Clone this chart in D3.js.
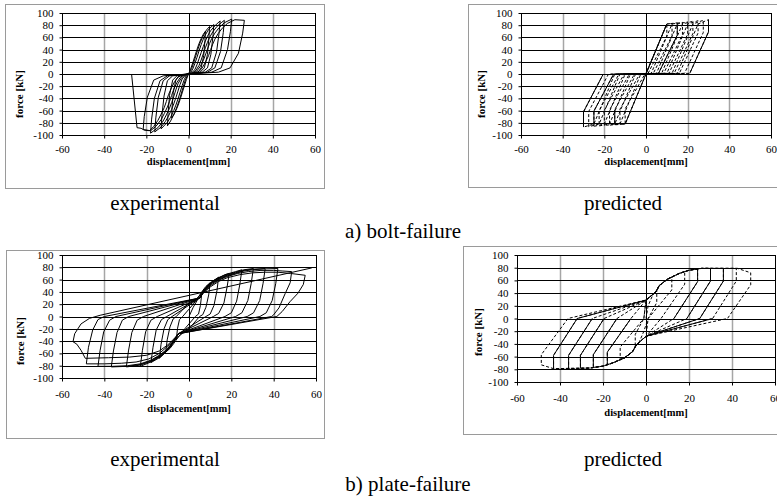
<!DOCTYPE html>
<html>
<head>
<meta charset="utf-8">
<script src="https://cdn.jsdelivr.net/npm/d3@7"></script>
<style>
  html, body { margin: 0; padding: 0; background: #fff; }
  svg { display: block; }
  svg text { font-family: "Liberation Serif", "Times New Roman", Times, serif; }
</style>
</head>
<body>
<svg id="chart" width="777" height="497"></svg>
<script>
// axis ticks
const xTicks = [-60, -40, -20, 0, 20, 40, 60];
const yTicks = [-100, -80, -60, -40, -20, 0, 20, 40, 60, 80, 100];

// a) bolt-failure, experimental: [displacement mm, force kN]
const boltExp = [
  [0,0],[1,8],[2,18],[3,29],[4,40],[5,50],[6,58],[7,65],[8,70],[7.8,55],[7.2,30],[6,10],[4.5,3],[2,1.5],[0,0],
  [-1,-9],[-2,-20],[-3,-31],[-4,-42],[-5,-52],[-6,-60],[-7,-67],[-8,-72],[-7.8,-55],[-7.2,-30],[-6,-10],[-4.5,-3],[-2,-1.5],[0,0],
  [0.5,2],[1.5,9],[2.5,19],[3.5,30],[4.5,41],[5.5,51],[6.5,59],[7.5,66],[8.5,72],[10,78],[9.7,60],[9,32],[7.5,10],[5.5,3],[2.5,1.5],[0,0],
  [-0.5,-2],[-1.5,-10],[-2.5,-21],[-3.5,-33],[-4.5,-44],[-5.5,-54],[-6.5,-63],[-7.5,-70],[-8.5,-77],[-10,-85],[-9.7,-65],[-9,-35],[-7.5,-10],[-5.5,-3],[-2.5,-1.5],[0,0],
  [1,2],[2,8],[3,17],[4,27],[5,38],[6,48],[7,57],[8,64],[9.5,73],[12,81],[11.6,62],[10.6,32],[9,10],[6.5,3],[3,1.5],[0,0],
  [-1,-2],[-2,-9],[-3,-19],[-4,-30],[-5,-41],[-6,-51],[-7,-60],[-8.5,-71],[-10,-79],[-13,-90],[-12.6,-68],[-11.6,-36],[-10,-11],[-7.5,-3],[-3,-1.5],[0,0],
  [1.5,2],[3,7],[4,15],[5,25],[6,35],[7,45],[8,54],[9,62],[10.5,71],[12.5,79],[15,87],[14.5,67],[13.3,36],[11,10],[8,3],[4,1.5],[0,0],
  [-1.5,-2],[-3,-8],[-4,-17],[-5,-28],[-6,-39],[-7,-49],[-8,-58],[-9.5,-69],[-11,-78],[-13,-87],[-16,-95],[-15.5,-72],[-14.3,-38],[-12,-11],[-9,-3],[-4,-1.5],[0,0],
  [2,2],[3.5,6],[5,14],[6,23],[7,33],[8,43],[9,52],[10,60],[11.5,69],[13.5,78],[15.5,84],[17,88],[16.5,68],[15.2,37],[12.5,10],[9,3],[4.5,1.5],[0,0],
  [-2,-2],[-3.5,-7],[-5,-16],[-6,-26],[-7,-37],[-8,-47],[-9,-56],[-10.5,-67],[-12,-77],[-14.5,-88],[-18,-97],[-17.5,-74],[-16.2,-40],[-13.5,-11],[-10,-3],[-5,-1.5],[0,0],
  [2.5,2],[4,5],[5.5,12],[7,22],[8,31],[9,41],[10,50],[11,58],[12.5,67],[14.5,76],[17,84],[20.5,90],[19.9,70],[18.5,40],[15.5,10],[11,3],[5,1.5],[0,0],
  [-2.5,-2],[-4,-6],[-5.5,-14],[-7,-25],[-8,-35],[-9,-45],[-10,-54],[-11.5,-65],[-13,-75],[-15.5,-86],[-18,-93],[-21.5,-91],[-21,-70],[-19.5,-38],[-16.5,-10],[-12,-3],[-6,-1.5],[0,0],
  [3,2],[5,4],[6.5,10],[8,19],[9.5,30],[10.5,40],[11.5,49],[12.5,57],[14,66],[16,75],[18.5,83],[22,89],[26.5,88],[25.7,67],[23.7,34],[19.7,10],[14.2,3],[7,1.5],[0,0],
  [-3,-2],[-5,-5],[-6.5,-12],[-8,-22],[-9.5,-34],[-10.5,-45],[-11.5,-55],[-13,-66],[-14.5,-76],[-16.5,-86],[-18.5,-93],[-21,-92],[-22.5,-89],[-24.4,-88],[-27,0]
];

// a) bolt-failure, predicted (dashed run)
const boltPredDash = [
  [0,0],[10,82],[10,62],[1,1],[0,0],[-10,-82],[-10,-57],[-0.5,0],
  [0,1],[10,82],[12.5,82.9],[12.5,62.9],[3.5,1],[0,0],[-10,-82],[-12.5,-82.6],[-12.5,-57.6],[-3,0],
  [0,1],[10,82],[15,83.8],[15,63.8],[6,1],[0,0],[-10,-82],[-15,-83.3],[-15,-58.3],[-5.5,0],
  [2.5,1],[12.5,82],[17.5,84.6],[17.5,64.6],[8.5,1],[-2.5,0],[-12.5,-82],[-17.5,-83.9],[-17.5,-58.9],[-8,0],
  [5,1],[15,82],[20,85.5],[20,65.5],[11,1],[-5,0],[-15,-82],[-20,-84.5],[-20,-59.5],[-10.5,0],
  [7.5,1],[17.5,82],[22.5,86.4],[22.5,66.4],[13.5,1],[-7.5,0],[-17.5,-82],[-22.5,-85.1],[-22.5,-60.1],[-13,0],
  [10,1],[20,82],[25,87.3],[25,67.3],[16,1],[-10,0],[-20,-82],[-25,-85.8],[-25,-60.8],[-15.5,0],
  [12.5,1],[22.5,82],[27.5,88.1],[27.5,68.1],[18.5,1],[-12.5,0],[-22.5,-82],[-27.5,-86.4],[-27.5,-61.4],[-18,0],
  [15,1],[25,82],[30,89],[30,69],[21,1],[-15,0],[-25,-82],[-30,-87],[-30,-62],[-20.5,0]
];

// a) bolt-failure, predicted (solid pieces)
const boltPredSolid = [
  [[0,0],[10,82]],
  [[15,83.8],[15,63.8],[6,1]],
  [[30,89],[30,69],[21,1]],
  [[-15,-83.3],[-15,-58.3]],
  [[-25,-85.8],[-25,-60.8],[-15.5,0]],
  [[-30,-87],[-30,-62],[-20.5,0]]
];

// b) plate-failure, experimental
const plateExp = [
  [0,0],[2,15],[4,27],[6,36],[5.4,18],[4.5,4],[3,0],[0,-12],[-2,-20],[-4,-29],[-6,-37],[-5.4,-19],[-4.5,-5],[-3,0],[0,12],
  [2,20],[4,29],[6,40],[8,49],[10,55],[9.3,35],[8,15],[6.5,3],[5,0],[0,-20],[-3,-27],[-5,-33],[-7,-43],[-9,-52],[-11,-58],[-10.3,-38],[-9,-17],[-7.5,-4],[-6,0],[0,22],[3,27],
  [5,34],[7,43],[9,51],[11,57],[14,64],[13.2,42],[11.8,18],[10,4],[8,0],[-5,-28],[-7,-40],[-9,-50],[-11,-58],[-14,-68],[-13.2,-45],[-11.8,-20],[-10,-5],[-8,0],[5,30],
  [7,43],[9,51],[11,57],[14,63],[17,68],[19,70],[18,48],[16.5,22],[14,5],[11.5,0],[-5,-28],[-7,-40],[-9,-50],[-11,-58],[-14,-67],[-18,-75],[-17,-50],[-15.5,-22],[-13,-5],[-10.5,0],[5,30],
  [7,42],[9,50],[11,57],[14,63],[18,69],[22,73],[25,76],[24,52],[22.5,25],[20,6],[17,0],[-5,-28],[-7,-40],[-9,-50],[-11,-58],[-14,-66],[-18,-74],[-23,-81],[-22,-55],[-20.5,-25],[-18,-6],[-15,0],[5,30],
  [7,42],[9,50],[11,56],[14,62],[18,68],[22,72],[26,76],[30.4,78],[29.4,54],[27.8,26],[25,6],[22,0],[-5,-28],[-7,-39],[-9,-49],[-11,-57],[-14,-65],[-18,-73],[-23,-79],[-29.6,-82],[-28.6,-56],[-27,-26],[-24.5,-6],[-21.5,0],[5,30],
  [7,41],[9,49],[11,55],[14,61],[18,67],[22,71],[26,75],[30,77],[36,78],[35,54],[33.4,26],[30.5,6],[27.5,0],[-5,-28],[-7,-39],[-9,-48],[-11,-56],[-14,-64],[-18,-72],[-23,-78],[-29,-81],[-36.7,-82],[-35.7,-56],[-34,-26],[-31.5,-6],[-28.5,0],[5,30],
  [7,40],[9,48],[11,54],[14,60],[18,66],[22,70],[26,74],[30,76],[36,77.5],[42,78],[41,54],[39.3,26],[36.5,6],[33.5,0],[-5,-28],[-7,-38],[-9,-47],[-11,-55],[-14,-63],[-18,-71],[-23,-77],[-29,-80],[-36,-81],[-43,-81],[-42,-55],[-40.3,-25],[-37.5,-6],[-34.5,0],[5,30],
  [7,40],[10,50],[14,59],[18,65],[23,70],[28,73],[34,75],[40,75],[44,74],[48.5,73],[47.8,55],[45.4,37],[42.5,14],[39.8,2],[39,0],[-5,-28],[-7,-37],[-10,-48],[-14,-60],[-19,-69],[-25,-74],[-32,-76],[-40,-77],[-48.5,-77],[-47.5,-50],[-45.5,-22],[-43,-5],[-40,0],[5,30],
  [7,39],[10,48],[14,57],[18,63],[24,68],[30,71],[36,72],[42,72],[48,70],[54.9,67],[54,52],[51.5,38],[47.7,24],[44,8],[41.5,0],[-5,-28],[-7,-36],[-10,-46],[-14,-56],[-20,-63],[-28,-66],[-38,-67],[-49,-68],[-51,-55],[-53,-45],[-54.8,-41],[-54,-28],[-51,-12],[-47,-3],[-42,2],[58,79]
];

// b) plate-failure, predicted (dashed run)
const platePredDash = [
  [0,0],[1,20],[3,36],[5,45],[5,25],[1,0],[-1,-20],[-3,-36],[-5,-45],[-5,-25],[-1,0],
  [0,29],[4.6,42],[6.2,52],[10,62],[12,65],[12,45],[1,0],
  [0,-28],[-4.6,-42],[-6.2,-52],[-10,-62],[-12,-65],[-12,-45],[-1,0],
  [0,29],[4.6,42],[6.2,52],[10,62],[15.5,71],[18,74],[18,54],[7,0],
  [0,-28],[-4.6,-42],[-6.2,-52],[-10,-62],[-15.5,-70],[-18,-73],[-18,-53],[-7,0],
  [0,29],[4.6,42],[6.2,52],[10,62],[15.5,71],[20,76],[24,78],[24,58],[13,0],
  [0,-28],[-4.6,-42],[-6.2,-52],[-10,-62],[-15.5,-70],[-20,-75],[-24.5,-77],[-24.5,-57],[-13.5,0],
  [0,29],[4.6,42],[6.2,52],[10,62],[15.5,71],[20,76],[26,79],[30,79],[30,59],[19,0],
  [0,-28],[-4.6,-42],[-6.2,-52],[-10,-62],[-15.5,-70],[-20,-75],[-26,-78],[-30.5,-78.5],[-30.5,-58],[-19.5,0],
  [0,29],[4.6,42],[6.2,52],[10,62],[15.5,71],[20,76],[26,79],[36,79],[36,59],[25,0],
  [0,-28],[-4.6,-42],[-6.2,-52],[-10,-62],[-15.5,-70],[-20,-75],[-26,-78],[-36,-79],[-36,-58],[-25,0],
  [0,29],[4.6,42],[6.2,52],[10,62],[15.5,71],[20,76],[26,79],[42,79],[42,59],[31,0],
  [0,-28],[-4.6,-42],[-6.2,-52],[-10,-62],[-15.5,-70],[-20,-75],[-26,-78],[-43,-79],[-43,-58],[-32,0],
  [0,29],[4.6,42],[6.2,52],[10,62],[15.5,71],[20,76],[26,79],[42.5,79],[48.7,72],[48.7,53],[37.9,0],
  [0,-28],[-4.6,-42],[-6.2,-52],[-10,-62],[-15.5,-70],[-20,-75],[-26,-78],[-43,-79],[-48.7,-73],[-48.7,-57],[-36.3,0],[0,29]
];

// b) plate-failure, predicted (solid pieces)
const platePredSolid = [
  [[24,78],[24,58],[13,0]],
  [[30,79],[30,59],[19,0]],
  [[36,79],[36,59],[25,0]],
  [[-18,-73],[-18,-53],[-7,0]],
  [[-24.5,-77],[-24.5,-57],[-13.5,0]],
  [[-30.5,-78.5],[-30.5,-58],[-19.5,0]],
  [[-36,-79],[-36,-58],[-25,0]],
  [[-43,-79],[-43,-58],[-32,0]],
  [[31,0],[0,-28]],
  [[25,0],[0,-28]],
  [[-32,0],[0,29]]
];

const xTitle = "displacement[mm]";
const yTitle = "force [kN]";
const captionTexts = ["experimental", "predicted", "a) bolt-failure", "experimental", "predicted", "b) plate-failure"];

const svg = d3.select("#chart");
const serif = "'Liberation Serif', 'Times New Roman', Times, serif";

const panels = [
  { frame: [5, 4, 319, 184], plot: [62, 13, 253, 122], xPad: 7, titleY: 165, yLab: [19.5, 94],
    runs: [boltExp], dashed: false },
  { frame: [468, 4, 330, 183], plot: [521, 13, 250, 122], xPad: 7, titleY: 165, yLab: [481, 94],
    runs: [boltPredDash], dashed: true, solid: boltPredSolid },
  { frame: [6, 250, 318, 188], plot: [62, 255, 254, 123], xPad: 9, titleY: 411.5, yLab: [20.5, 341],
    runs: [plateExp], dashed: false },
  { frame: [463, 246, 330, 188], plot: [517, 255, 258, 127], xPad: 9, titleY: 416, yLab: [478, 332],
    runs: [platePredDash], dashed: true, solid: platePredSolid }
];

const captionPos = [[165, 210], [623, 210], [403, 238], [165, 466], [623, 466], [408, 491]];

panels.forEach(drawPanel);

function drawPanel(p) {
  const g = svg.append("g");
  const [px, py, pw, ph] = p.plot;

  // outer chart frame
  g.append("rect")
    .attr("x", p.frame[0] + 0.5).attr("y", p.frame[1] + 0.5)
    .attr("width", p.frame[2]).attr("height", p.frame[3])
    .attr("fill", "#fff").attr("stroke", "#9a9a9a").attr("stroke-width", 1);

  const x = d3.scaleLinear().domain([-60, 60]).range([px, px + pw]);
  const y = d3.scaleLinear().domain([-100, 100]).range([py + ph, py]);

  // vertical gridlines (grey), zero line black
  g.selectAll(".vg").data(xTicks.filter(d => d > -60 && d < 60)).join("line")
    .attr("x1", d => Math.round(x(d)) + 0.5).attr("x2", d => Math.round(x(d)) + 0.5)
    .attr("y1", y(-100)).attr("y2", y(100))
    .attr("stroke", d => d === 0 ? "#000" : "#a6a6a6")
    .attr("stroke-width", d => d === 0 ? 1 : 1.5);

  // horizontal gridlines
  g.selectAll(".hg").data(yTicks.filter(d => d > -100 && d < 100)).join("line")
    .attr("x1", x(-60)).attr("x2", x(60))
    .attr("y1", d => Math.round(y(d)) + 0.5).attr("y2", d => Math.round(y(d)) + 0.5)
    .attr("stroke", "#000").attr("stroke-width", 1);

  const line = d3.line().x(d => x(d[0])).y(d => y(d[1]));

  p.runs.forEach(run => {
    g.append("path").attr("d", line(run))
      .attr("fill", "none").attr("stroke", "#000")
      .attr("stroke-width", 1)
      .attr("stroke-linejoin", "round")
      .attr("stroke-dasharray", p.dashed ? "3,2" : null);
  });

  if (p.solid) {
    g.selectAll(".solid").data(p.solid).join("path")
      .attr("d", line)
      .attr("fill", "none").attr("stroke", "#000").attr("stroke-width", 1);
  }

  // plot border
  g.append("rect")
    .attr("x", Math.round(px) + 0.5).attr("y", Math.round(py) + 0.5)
    .attr("width", Math.round(pw)).attr("height", Math.round(ph))
    .attr("fill", "none").attr("stroke", "#000").attr("stroke-width", 1);

  // axes
  const ax = g.append("g").attr("transform", `translate(0,${Math.round(y(-100)) + 0.5})`)
    .call(d3.axisBottom(x).tickValues(xTicks).tickSize(3).tickPadding(p.xPad).tickFormat(d => String(d)));
  const ay = g.append("g").attr("transform", `translate(${Math.round(x(-60)) + 0.5},0)`)
    .call(d3.axisLeft(y).tickValues(yTicks).tickSize(3).tickPadding(6).tickFormat(d => String(d)));
  [ax, ay].forEach(a => {
    a.select(".domain").remove();
    a.attr("font-family", serif).attr("font-size", 11);
    a.selectAll("text").attr("fill", "#000");
  });

  g.append("text")
    .attr("x", x(0)).attr("y", p.titleY)
    .attr("text-anchor", "middle").attr("font-family", serif)
    .attr("font-weight", "bold").attr("font-size", 10.5)
    .text(xTitle);

  g.append("text")
    .attr("transform", `translate(${p.yLab[0]},${p.yLab[1]}) rotate(-90)`)
    .attr("text-anchor", "middle").attr("dy", "0.35em").attr("font-family", serif)
    .attr("font-weight", "bold").attr("font-size", 11)
    .text(yTitle);
}

svg.selectAll(".caption").data(captionTexts).join("text")
  .attr("class", "caption")
  .attr("x", (d, i) => captionPos[i][0]).attr("y", (d, i) => captionPos[i][1])
  .attr("text-anchor", "middle").attr("font-family", serif).attr("font-size", 21)
  .text(d => d);
</script>
</body>
</html>
